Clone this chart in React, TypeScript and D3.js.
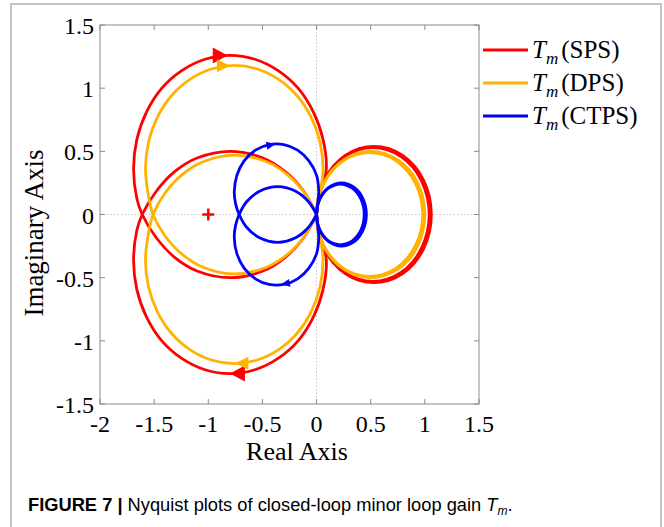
import React from 'react';
import * as d3 from 'd3';

type Pt = [number, number];

// axis ticks
const xTicks = [-2, -1.5, -1, -0.5, 0, 0.5, 1, 1.5];
const yTicks = [-1.5, -1, -0.5, 0, 0.5, 1, 1.5];

const seriesNames = ['SPS', 'DPS', 'CTPS'];
const seriesColors = ['#ff0000', '#ffb300', '#0000ff'];

// upper half (Im >= 0) of each locus.
// the lower half is the mirror image (Nyquist plots are conjugate symmetric)
const spsOuter: Pt[] = [
  [-1.61, 0], [-1.66, 0.127], [-1.69, 0.36], [-1.66, 0.593], [-1.571, 0.81], [-1.429, 1.0],
  [-1.245, 1.139], [-1.03, 1.229], [-0.8, 1.26], [-0.57, 1.229], [-0.355, 1.139], [-0.171, 1.0],
  [-0.029, 0.81], [0.06, 0.593], [0.09, 0.36], [0.057, 0.24], [0.022, 0.15], [0, 0],
];
const spsInner: Pt[] = [
  [-1.61, 0], [-1.482, 0.182], [-1.311, 0.339], [-1.104, 0.447], [-0.8, 0.5], [-0.496, 0.447],
  [-0.289, 0.339], [-0.118, 0.182], [0, 0],
];
const spsLobeA: Pt[] = [
  [0, 0], [0.018, 0.14], [0.071, 0.27], [0.155, 0.382], [0.265, 0.468], [0.393, 0.522],
  [0.53, 0.54], [0.667, 0.522], [0.795, 0.468], [0.905, 0.382], [0.989, 0.27], [1.042, 0.14], [1.06, 0],
];
const spsLobeB: Pt[] = [
  [0, 0], [0.018, 0.137], [0.07, 0.265], [0.152, 0.375], [0.26, 0.459], [0.386, 0.512],
  [0.52, 0.53], [0.654, 0.512], [0.78, 0.459], [0.888, 0.375], [0.97, 0.265], [1.022, 0.137], [1.04, 0],
];

const dpsOuter: Pt[] = [
  [-1.51, 0], [-1.552, 0.148], [-1.58, 0.36], [-1.552, 0.572], [-1.47, 0.77], [-1.34, 0.94],
  [-1.17, 1.07], [-0.972, 1.152], [-0.76, 1.18], [-0.548, 1.152], [-0.35, 1.07], [-0.18, 0.94],
  [-0.05, 0.77], [0.032, 0.572], [0.06, 0.36], [0.045, 0.24], [0.02, 0.14], [0, 0],
];
const dpsInner: Pt[] = [
  [-1.51, 0], [-1.399, 0.17], [-1.238, 0.318], [-1.043, 0.419], [-0.755, 0.47], [-0.467, 0.419],
  [-0.273, 0.318], [-0.111, 0.17], [0, 0],
];
const dpsLobeA: Pt[] = [
  [0, 0], [0.017, 0.129], [0.067, 0.25], [0.146, 0.354], [0.25, 0.433], [0.371, 0.483],
  [0.5, 0.5], [0.629, 0.483], [0.75, 0.433], [0.854, 0.354], [0.933, 0.25], [0.983, 0.129], [1.0, 0],
];
const dpsLobeB: Pt[] = [
  [0, 0], [0.017, 0.127], [0.066, 0.245], [0.144, 0.346], [0.245, 0.424], [0.363, 0.473],
  [0.49, 0.49], [0.617, 0.473], [0.735, 0.424], [0.836, 0.346], [0.914, 0.245], [0.963, 0.127], [0.98, 0],
];

const ctpsOuter: Pt[] = [
  [-0.715, 0], [-0.747, 0.082], [-0.76, 0.18], [-0.736, 0.31], [-0.669, 0.424], [-0.565, 0.509],
  [-0.438, 0.554], [-0.302, 0.554], [-0.175, 0.509], [-0.071, 0.424], [0, 0.31], [0.02, 0.18],
  [0.01, 0.08], [0, 0],
];
const ctpsInner: Pt[] = [
  [-0.715, 0], [-0.646, 0.101], [-0.531, 0.182], [-0.36, 0.22], [-0.189, 0.182], [-0.074, 0.101], [0, 0],
];
const ctpsLobeA: Pt[] = [
  [0, 0], [0.008, 0.065], [0.031, 0.125], [0.067, 0.177], [0.115, 0.217], [0.17, 0.241], [0.23, 0.25],
  [0.29, 0.241], [0.345, 0.217], [0.393, 0.177], [0.429, 0.125], [0.452, 0.065], [0.46, 0],
];
const ctpsLobeB: Pt[] = [
  [0, 0], [0.007, 0.062], [0.029, 0.12], [0.064, 0.17], [0.11, 0.208], [0.163, 0.231], [0.22, 0.24],
  [0.277, 0.231], [0.33, 0.208], [0.376, 0.17], [0.411, 0.12], [0.433, 0.062], [0.44, 0],
];

// arrow tips [re, im, direction (+1 right, -1 left)]
const spsArrows: [number, number, number][] = [[-0.82, 1.258, 1], [-0.8, -1.258, -1]];
const dpsArrows: [number, number, number][] = [[-0.8, 1.178, 1], [-0.75, -1.178, -1]];
const ctpsArrows: [number, number, number][] = [[-0.38, 0.558, 1], [-0.33, -0.555, -1]];

const criticalPoint: Pt = [-1, 0];

const W = 664;
const H = 527;

const mirror = (pts: Pt[]): Pt[] => pts.map(([re, im]) => [re, -im] as Pt);

export default function App() {
  const x = d3.scaleLinear().domain([-2, 1.5]).range([100, 479]);
  const y = d3.scaleLinear().domain([-1.5, 1.5]).range([404, 25]);

  const line = d3
    .line<Pt>()
    .x((d) => x(d[0]))
    .y((d) => y(d[1]))
    .curve(d3.curveCatmullRom.alpha(0.5));

  const series = [
    { outer: spsOuter, inner: spsInner, lobes: [spsLobeA, spsLobeB], arrows: spsArrows, size: [15, 16] },
    { outer: dpsOuter, inner: dpsInner, lobes: [dpsLobeA, dpsLobeB], arrows: dpsArrows, size: [13, 13] },
    { outer: ctpsOuter, inner: ctpsInner, lobes: [ctpsLobeA, ctpsLobeB], arrows: ctpsArrows, size: [9, 8] },
  ];

  const serif = '"Liberation Serif", "Times New Roman", serif';
  const sans = '"Liberation Sans", Arial, sans-serif';
  const axisColor = '#8a8a8a';

  const arrowPath = (s: (typeof series)[number], a: [number, number, number]) => {
    const branch = a[1] >= 0 ? s.outer : mirror(s.outer);
    const px = x(a[0]);
    const py = y(a[1]);
    let best = 0;
    let bd = Infinity;
    branch.forEach((p, i) => {
      const d = (x(p[0]) - px) ** 2 + (y(p[1]) - py) ** 2;
      if (d < bd) {
        bd = d;
        best = i;
      }
    });
    const p0 = branch[Math.max(0, best - 1)];
    const p1 = branch[Math.min(branch.length - 1, best + 1)];
    let dx = x(p1[0]) - x(p0[0]);
    let dy = y(p1[1]) - y(p0[1]);
    if (Math.sign(dx) !== a[2]) {
      dx = -dx;
      dy = -dy;
    }
    const ang = (Math.atan2(dy, dx) * 180) / Math.PI;
    const [L, Wd] = s.size;
    return { d: `M0,0L${-L},${-Wd / 2}L${-L},${Wd / 2}Z`, t: `translate(${px},${py}) rotate(${ang})` };
  };

  return (
    <svg
      width={W}
      height={H}
      style={{ position: 'absolute', left: 0, top: 0, background: '#fff' }}
    >
      <rect x={0} y={0} width={W} height={H} fill="#fff" />
      {/* figure frame */}
      <path d={`M11,${H + 5}V4H661V${H + 5}`} fill="none" stroke="#c4c4c4" strokeWidth={2} />

      {/* zero lines */}
      <line x1={x(-2)} x2={x(1.5)} y1={y(0)} y2={y(0)} stroke="#c8c8c8" strokeWidth={1} strokeDasharray="1.5 2" />
      <line x1={x(0)} x2={x(0)} y1={y(1.5)} y2={y(-1.5)} stroke="#c8c8c8" strokeWidth={1} strokeDasharray="1.5 2" />

      {/* critical point */}
      <g stroke="#ff0000" strokeWidth={2.5}>
        <line x1={x(criticalPoint[0]) - 6} x2={x(criticalPoint[0]) + 6} y1={y(criticalPoint[1])} y2={y(criticalPoint[1])} />
        <line x1={x(criticalPoint[0])} x2={x(criticalPoint[0])} y1={y(criticalPoint[1]) - 6} y2={y(criticalPoint[1]) + 6} />
      </g>

      {series.map((s, i) => {
        const p1 = [...mirror(s.inner).reverse(), ...s.outer.slice(1)];
        const p2 = [...mirror(s.outer).reverse(), ...s.inner.slice(1)];
        const lobes = s.lobes.map((l) => [...l, ...mirror(l).reverse().slice(1)]);
        return (
          <g key={i} fill="none" stroke={seriesColors[i]} strokeWidth={2.8} strokeLinejoin="round">
            <path d={line(p1) || ''} />
            <path d={line(p2) || ''} />
            {lobes.map((l, j) => (
              <path key={j} d={line(l) || ''} />
            ))}
            {s.arrows.map((a, j) => {
              const ar = arrowPath(s, a);
              return <path key={'a' + j} d={ar.d} transform={ar.t} fill={seriesColors[i]} stroke="none" />;
            })}
          </g>
        );
      })}

      {/* axes box and ticks */}
      <rect x={x(-2)} y={y(1.5)} width={x(1.5) - x(-2)} height={y(-1.5) - y(1.5)} fill="none" stroke={axisColor} strokeWidth={1} />
      <g stroke={axisColor} strokeWidth={1}>
        {xTicks.map((t) => (
          <g key={'x' + t}>
            <line x1={x(t)} x2={x(t)} y1={y(-1.5)} y2={y(-1.5) - 5} />
            <line x1={x(t)} x2={x(t)} y1={y(1.5)} y2={y(1.5) + 5} />
          </g>
        ))}
        {yTicks.map((t) => (
          <g key={'y' + t}>
            <line x1={x(-2)} x2={x(-2) + 5} y1={y(t)} y2={y(t)} />
            <line x1={x(1.5)} x2={x(1.5) - 5} y1={y(t)} y2={y(t)} />
          </g>
        ))}
      </g>

      <g fontFamily={serif} fontSize={24} fill="#000">
        {xTicks.map((t) => (
          <text key={'xl' + t} x={x(t)} y={y(-1.5) + 28} textAnchor="middle">
            {String(t)}
          </text>
        ))}
        {yTicks.map((t) => (
          <text key={'yl' + t} x={x(-2) - 6} y={y(t) + 9} textAnchor="end">
            {String(t)}
          </text>
        ))}
      </g>

      <text x={297} y={460} fontFamily={serif} fontSize={26} textAnchor="middle">
        Real Axis
      </text>
      <text
        transform={`translate(43,233) rotate(-90)`}
        fontFamily={serif}
        fontSize={27}
        textAnchor="middle"
      >
        Imaginary Axis
      </text>

      {/* legend */}
      {seriesNames.map((n, i) => {
        const ly = 50 + i * 33;
        return (
          <g key={n}>
            <line x1={483} x2={528} y1={ly} y2={ly} stroke={seriesColors[i]} strokeWidth={2.8} />
            <text x={532} y={ly + 8} fontFamily={serif} fontSize={25}>
              <tspan fontStyle="italic">T</tspan>
              <tspan fontStyle="italic" fontSize={17} dy={6}>
                m
              </tspan>
              <tspan dy={-6} dx={3}>
                ({n})
              </tspan>
            </text>
          </g>
        );
      })}

      {/* caption */}
      <text x={28} y={511} fontFamily={sans} fontSize={18.3} fill="#000">
        <tspan fontWeight="bold">FIGURE 7 |</tspan>
        <tspan> Nyquist plots of closed-loop minor loop gain </tspan>
        <tspan fontStyle="italic">T</tspan>
        <tspan fontStyle="italic" fontSize={12} dy={4}>
          m
        </tspan>
        <tspan dy={-4}>.</tspan>
      </text>
    </svg>
  );
}
